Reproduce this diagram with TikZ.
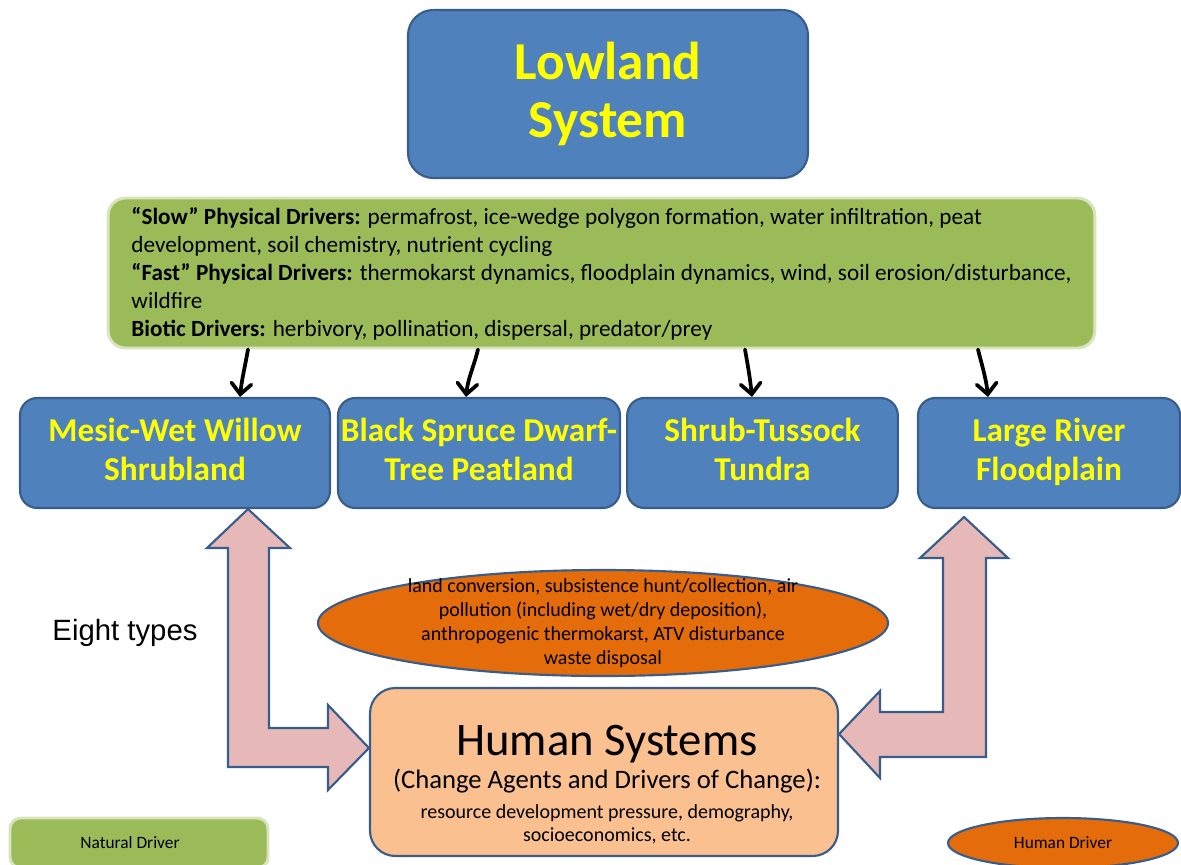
\documentclass[tikz,border=0pt]{standalone}
\usepackage{fontspec}
\setmainfont{Carlito}
\newfontfamily\arialfont{Liberation Sans}
\usetikzlibrary{shapes.geometric,arrows.meta}

\definecolor{boxblue}{HTML}{4F81BD}
\definecolor{edgeblue}{HTML}{385D8A}
\definecolor{drvgreen}{HTML}{9BBB59}
\definecolor{drvedge}{HTML}{D7E4BD}
\definecolor{humorange}{HTML}{E46C0A}
\definecolor{humpeach}{HTML}{FAC090}
\definecolor{arrowpink}{HTML}{E6B9B8}
\definecolor{titleyellow}{HTML}{FFFF00}

\tikzset{
  sysbox/.style={rectangle,rounded corners=13pt,draw=edgeblue,line width=1.6pt,
    fill=boxblue,text=titleyellow,align=center,inner sep=0pt,
    minimum height=82.5pt,font=\bfseries\fontsize{25}{29}\selectfont},
  drvbox/.style={rectangle,rounded corners=13pt,draw=drvedge,line width=2.2pt,
    fill=drvgreen,inner sep=0pt},
  humell/.style={ellipse,draw=edgeblue,line width=1.6pt,fill=humorange,inner sep=0pt},
  drvarrow/.style={line width=2.8pt,line cap=round,
    -{Straight Barb[length=8pt,width=15pt,line cap=round]}},
  blockarrow/.style={draw=edgeblue,line width=1.6pt,fill=arrowpink,line join=miter}
}

\begin{document}
\begin{tikzpicture}[x=0.75pt,y=-0.75pt]
        \useasboundingbox (0,0) rectangle (1181,864);

        % Top system box
        \node[sysbox,rounded corners=19pt,minimum width=300pt,minimum height=126pt,
              font=\bfseries\fontsize{40}{46}\selectfont] (low) at (608,94) {\raisebox{-3pt}{Lowland}\\System};

        % Natural drivers
        \node[drvbox,minimum width=740pt,minimum height=112.5pt,align=left,
              font=\fontsize{17.4}{21}\selectfont] (nat) at (601.5,273)
          {\strut\textbf{“Slow” Physical Drivers:} permafrost, ice-wedge polygon formation, water infiltration, peat\\
           development, soil chemistry, nutrient cycling\\
           \textbf{“Fast” Physical Drivers:} thermokarst dynamics, floodplain dynamics, wind, soil erosion/disturbance,\\
           wildfire\\
           \textbf{Biotic Drivers:} herbivory, pollination, dispersal, predator/prey};

        % The four types shown
        \node[sysbox,minimum width=232.5pt] (willow) at (175,453) {\strut Mesic-Wet Willow\\Shrubland\strut};
        \node[sysbox,minimum width=211.5pt] (spruce) at (479,453) {\strut Black Spruce Dwarf-\\Tree Peatland\strut};
        \node[sysbox,minimum width=203pt] (tussock) at (762.5,453) {\strut Shrub-Tussock\\Tundra\strut};
        \node[sysbox,minimum width=196.5pt] (river) at (1049,453) {\strut Large River\\Floodplain\strut};

        % Driver arrows
        \draw[drvarrow] (nat.south -| 248,0) to[out=-100,in=84] (willow.north -| 240,0);
        \draw[drvarrow] (nat.south -| 478,0) to[out=-104,in=84] (spruce.north -| 466,0);
        \draw[drvarrow] (nat.south -| 745,0) to[out=-80,in=96] (tussock.north -| 752,0);
        \draw[drvarrow] (nat.south -| 978,0) to[out=-76,in=96] (river.north -| 988,0);

        % Human drivers
        \node[humell,minimum width=427.5pt,minimum height=79.5pt] (press) at (603,623) {};
        \node[align=center,font=\fontsize{15}{18}\selectfont] (presstext) at (press.center)
          {land conversion, subsistence hunt/collection, air\\
           pollution (including wet/dry deposition),\\
           anthropogenic thermokarst, ATV disturbance\\
           waste disposal};

        % Human systems
        \node[rectangle,rounded corners=19pt,draw=edgeblue,line width=1.6pt,fill=humpeach,
              minimum width=351pt,minimum height=126pt] (hs) at (604,772) {};
        \node[anchor=base,font=\fontsize{35}{40}\selectfont] (hstitle) at (607,755) {Human Systems};
        \node[anchor=base,font=\fontsize{20}{24}\selectfont] (hssub) at (607,788)
          {(Change Agents and Drivers of Change):};
        \node[anchor=base,font=\fontsize{15}{18}\selectfont] (hsdesc) at (607,818)
          {resource development pressure, demography,};
        \node[anchor=base,font=\fontsize{15}{18}\selectfont] (hsdesc2) at (607,841)
          {socioeconomics, etc.};

        % Two-way block arrows
        \draw[blockarrow] (248,0 |- willow.south) -- (290,548) -- (269,548) -- (269,728)
          -- (328,728) -- (328,705) -- (hs.west |- 0,748) -- (328,790) -- (328,767)
          -- (228,767) -- (228,548) -- (207,548) -- cycle;
        \draw[blockarrow] (964,517) -- (1008,558) -- (986,558) -- (986,757)
          -- (880,757) -- (880,778) -- (hs.east |- 0,734) -- (880,691) -- (880,712)
          -- (943,712) -- (943,558) -- (920,558) -- cycle;

        \node[font=\arialfont\fontsize{22}{26}\selectfont] (eight) at (125,633) {Eight types};

        % Legend
        \node[drvbox,rounded corners=8pt,minimum width=193.5pt,minimum height=37.5pt] (natkey) at (139,843) {};
        \node[font=\fontsize{13}{15}\selectfont] (natkeytext) at (130,843) {Natural Driver};
        \node[humell,minimum width=172.5pt,minimum height=37.5pt,
              font=\fontsize{13}{15}\selectfont] (humkey) at (1063,843) {Human Driver};
    \end{tikzpicture}
\end{document}
